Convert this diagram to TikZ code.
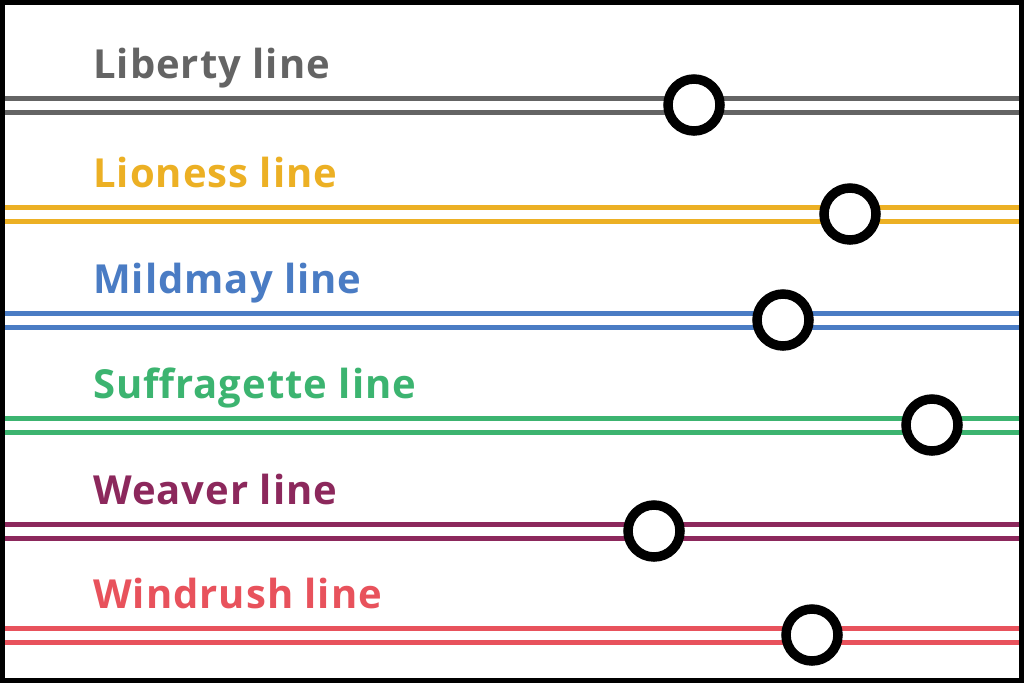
\documentclass[tikz,border=0pt]{standalone}
\usepackage{fontspec}
\setmainfont{Open Sans}[LetterSpace=2.5]
\usetikzlibrary{positioning}
\definecolor{liberty}{RGB}{100,100,100}
\definecolor{lioness}{RGB}{236,176,36}
\definecolor{mildmay}{RGB}{74,124,196}
\definecolor{suffragette}{RGB}{60,180,112}
\definecolor{weaver}{RGB}{140,40,92}
\definecolor{windrush}{RGB}{232,82,92}
\tikzset{
  tube/.style={draw=#1,line width=5pt},
  tube/.default=liberty,
  linename/.style={text=#1,font=\fontsize{40}{40}\selectfont\bfseries,
    anchor=base west,inner sep=0pt},
  station/.style={circle,draw=black,fill=white,line width=9.5pt,
    minimum size=52pt,inner sep=0pt},
}
\begin{document}
\begin{tikzpicture}[x=1pt,y=-1pt]
  \useasboundingbox (0,0) rectangle (1024,683);
  \fill[white] (0,0) rectangle (1024,683);
  \foreach \y/\sx/\c/\t in {
    105/694/liberty/Liberty line,
    214/850/lioness/Lioness line,
    320/783/mildmay/Mildmay line,
    425/932/suffragette/Suffragette line,
    531/654/weaver/Weaver line,
    635/812/windrush/Windrush line}
  {
    \coordinate (w) at (0,\y);
    \coordinate (e) at (1024,\y);
    \draw[tube=\c] ([yshift=7pt]w) -- ([yshift=7pt]e);
    \draw[tube=\c] ([yshift=-7pt]w) -- ([yshift=-7pt]e);
    \node[station] (s) at (\sx,\y) {};
    \node[linename=\c] (n) at (93,\y-27) {\t};
  }
  \draw[line width=5pt] (2.5,2.5) rectangle (1021.5,680.5);
\end{tikzpicture}
\end{document}
